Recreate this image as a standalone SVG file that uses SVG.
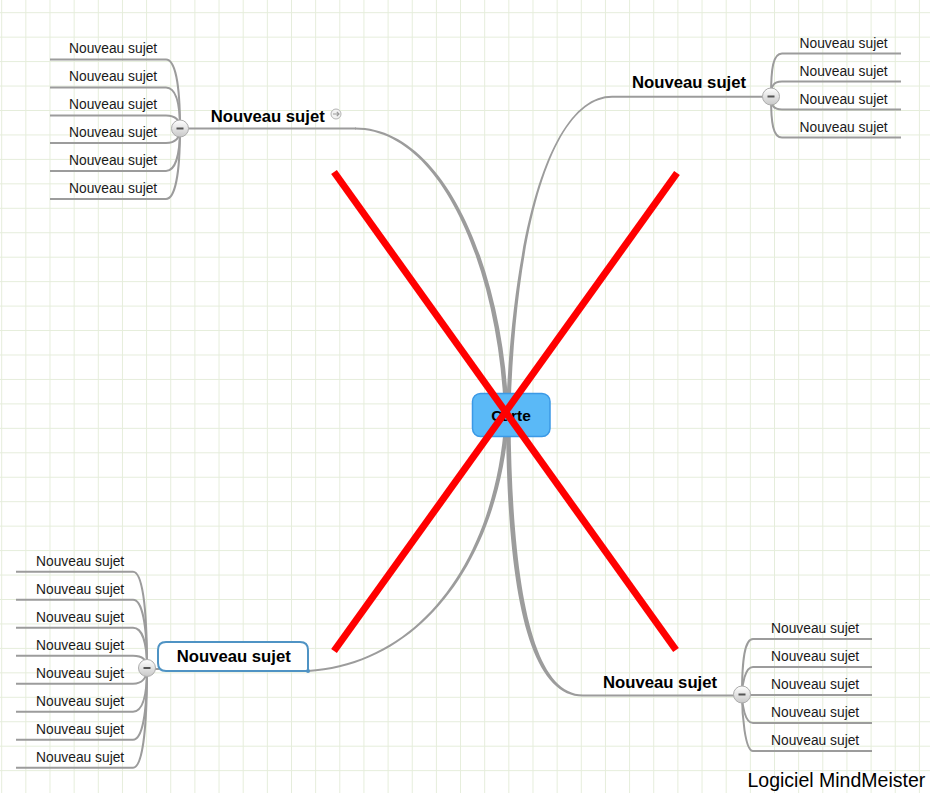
<svg xmlns="http://www.w3.org/2000/svg" width="930" height="793" viewBox="0 0 930 793">
<defs>
<pattern id="grid" patternUnits="userSpaceOnUse" x="1.2" y="12.2" width="24.15" height="24.45">
<path d="M0 0.5 H24.15 M0.5 0 V24.45" stroke="#e5eddb" stroke-width="1" fill="none"/>
</pattern>
<linearGradient id="btn" x1="0" y1="0" x2="0" y2="1">
<stop offset="0" stop-color="#ffffff"/>
<stop offset="1" stop-color="#c8c8c8"/>
</linearGradient>
<style>
.sub{font-family:"Liberation Sans",Arial,sans-serif;font-size:13.8px;fill:#1a1a1a}
.main{font-family:"Liberation Sans",Arial,sans-serif;font-size:16.7px;font-weight:bold;fill:#000}
.ln{fill:none;stroke:#9c9c9c;stroke-width:2}
.tp{fill:#9c9c9c;stroke:none}
.btn{fill:url(#btn);stroke:#acacac;stroke-width:1}
.minus{fill:#555}
.cross{stroke:#ff0000;stroke-width:7;stroke-linecap:butt}
</style>
</defs>
<rect width="930" height="793" fill="#ffffff"/>
<rect width="930" height="793" fill="url(#grid)"/>

<g id="connectors">
<path class="tp" d="M355 127.5 C442 127.5 502 262 508.5 410 L504 410 C497 262 439 129.5 355 129.5 Z"/>
<path class="tp" d="M612 95.7 C559 95.7 515 200 506 410 L510.5 410 C517 200 560 97.7 612 97.7 Z"/>
<path class="tp" d="M308 672 C421 665 499 560 509 420 L504.5 420 C495 560 420 663 308 670 Z"/>
<path class="tp" d="M506 420 C507 585 527 696.5 583 696.5 L583 694.5 C531 694.5 512 580 510.5 420 Z"/>
<path class="ln" d="M188 128.5 H356"/>
<path class="ln" d="M612 96.7 H771"/>
<path class="ln" d="M583 695.5 H742"/>
<path class="ln" d="M147 669 H159"/>
<path class="ln" d="M50 59.5 H166 C175 59.5 180 83.5 180 128.5"/>
<path class="ln" d="M50 87.5 H166 C175 87.5 180 101.5 180 128.5"/>
<path class="ln" d="M50 115.5 H166 C175 115.5 180 120 180 128.5"/>
<path class="ln" d="M50 143 H166 C175 143 180 138 180 128.5"/>
<path class="ln" d="M50 171 H166 C175 171 180 156 180 128.5"/>
<path class="ln" d="M50 199 H166 C175 199 180 174 180 128.5"/>
<path class="ln" d="M901 53.5 H782 C773 53.5 771 68.5 771 96.5"/>
<path class="ln" d="M901 81.5 H782 C773 81.5 771 86.5 771 96.5"/>
<path class="ln" d="M901 109.5 H782 C773 109.5 771 105 771 96.5"/>
<path class="ln" d="M901 137.5 H782 C773 137.5 771 123 771 96.5"/>
<path class="ln" d="M16 571.7 H133 C142 571.7 147 605 147 668"/>
<path class="ln" d="M16 599.7 H133 C142 599.7 147 624 147 668"/>
<path class="ln" d="M16 627.7 H133 C142 627.7 147 642 147 668"/>
<path class="ln" d="M16 655.7 H133 C142 655.7 147 660 147 668"/>
<path class="ln" d="M16 683.7 H133 C142 683.7 147 678 147 668"/>
<path class="ln" d="M16 711.7 H133 C142 711.7 147 697 147 668"/>
<path class="ln" d="M16 739.7 H133 C142 739.7 147 715 147 668"/>
<path class="ln" d="M16 767.7 H133 C142 767.7 147 733 147 668"/>
<path class="ln" d="M872 639 H753 C745 639 742 658 742 694.5"/>
<path class="ln" d="M872 667 H753 C745 667 742 685 742 694.5"/>
<path class="ln" d="M872 695 H742"/>
<path class="ln" d="M872 723 H753 C745 723 742 705 742 694.5"/>
<path class="ln" d="M872 751 H753 C745 751 742 714 742 694.5"/>
</g>

<g id="center">
<rect x="472.5" y="393.5" width="77.5" height="43" rx="8" fill="#5ab9f7" stroke="#3b99e6" stroke-width="1.5"/>
<text x="511" y="421" text-anchor="middle" font-family="Liberation Sans, Arial, sans-serif" font-size="15.5" font-weight="bold" fill="#000">Carte</text>
</g>

<g id="node-tl">
<text class="main" x="210.7" y="122.3">Nouveau sujet</text>
<circle cx="336" cy="114" r="5" fill="#f2f2f2" stroke="#b4b4b4" stroke-width="1"/>
<path d="M333 114 H339 M336.8 111.8 L339 114 L336.8 116.2" fill="none" stroke="#9a9a9a" stroke-width="1.2"/>
<circle class="btn" cx="180" cy="128.5" r="8.5"/>
<rect class="minus" x="176.5" y="127.5" width="7" height="2"/>
</g>
<g id="node-tl-children">
<text class="sub" x="69" y="53">Nouveau sujet</text>
<text class="sub" x="69" y="81">Nouveau sujet</text>
<text class="sub" x="69" y="109">Nouveau sujet</text>
<text class="sub" x="69" y="137">Nouveau sujet</text>
<text class="sub" x="69" y="165">Nouveau sujet</text>
<text class="sub" x="69" y="193">Nouveau sujet</text>
</g>

<g id="node-tr">
<text class="main" x="632" y="87.7">Nouveau sujet</text>
<circle class="btn" cx="771" cy="96.5" r="8.5"/>
<rect class="minus" x="767.5" y="95.5" width="7" height="2"/>
</g>
<g id="node-tr-children">
<text class="sub" x="799.5" y="48">Nouveau sujet</text>
<text class="sub" x="799.5" y="76">Nouveau sujet</text>
<text class="sub" x="799.5" y="104">Nouveau sujet</text>
<text class="sub" x="799.5" y="132">Nouveau sujet</text>
</g>

<g id="node-bl">
<path d="M166 642 H300 Q308 642 308 650 V671 H166 Q158 671 158 663 V650 Q158 642 166 642 Z" fill="#ffffff" stroke="#4f93c4" stroke-width="2"/>
<circle cx="308" cy="671" r="2" fill="#4f93c4"/>
<text class="main" x="176.7" y="661.7">Nouveau sujet</text>
<circle class="btn" cx="147" cy="668" r="8.5"/>
<rect class="minus" x="143.5" y="667" width="7" height="2"/>
</g>
<g id="node-bl-children">
<text class="sub" x="36" y="566">Nouveau sujet</text>
<text class="sub" x="36" y="594">Nouveau sujet</text>
<text class="sub" x="36" y="622">Nouveau sujet</text>
<text class="sub" x="36" y="650">Nouveau sujet</text>
<text class="sub" x="36" y="678">Nouveau sujet</text>
<text class="sub" x="36" y="706">Nouveau sujet</text>
<text class="sub" x="36" y="734">Nouveau sujet</text>
<text class="sub" x="36" y="762">Nouveau sujet</text>
</g>

<g id="node-br">
<text class="main" x="603" y="687.7">Nouveau sujet</text>
<circle class="btn" cx="742" cy="694.5" r="8.5"/>
<rect class="minus" x="738.5" y="693.5" width="7" height="2"/>
</g>
<g id="node-br-children">
<text class="sub" x="771" y="633">Nouveau sujet</text>
<text class="sub" x="771" y="661">Nouveau sujet</text>
<text class="sub" x="771" y="689">Nouveau sujet</text>
<text class="sub" x="771" y="717">Nouveau sujet</text>
<text class="sub" x="771" y="745">Nouveau sujet</text>
</g>

<g id="cross">
<line class="cross" x1="334" y1="172" x2="676" y2="650"/>
<line class="cross" x1="677" y1="173" x2="334" y2="651"/>
</g>

<text x="747.5" y="786.5" font-family="Liberation Sans, 'Noto Sans CJK JP', sans-serif" font-size="19.5" fill="#000">Logiciel MindMeister</text>
</svg>
